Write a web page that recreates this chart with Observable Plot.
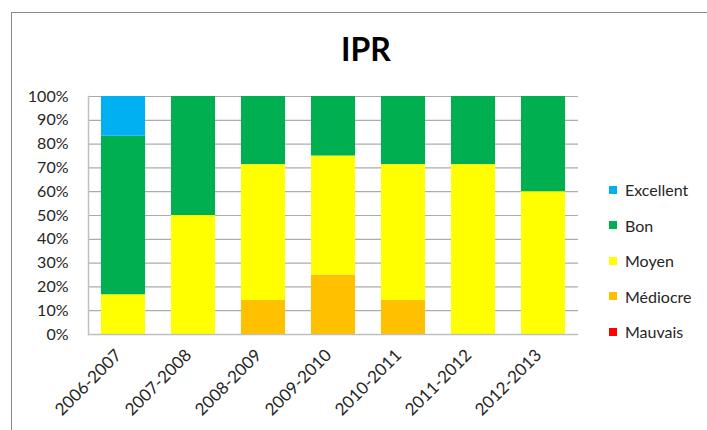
<!DOCTYPE html>
<html>
<head>
<meta charset="utf-8">
<script src="https://cdn.jsdelivr.net/npm/d3@7"></script>
<script src="https://cdn.jsdelivr.net/npm/@observablehq/plot@0.6"></script>
<style>
  html, body { margin: 0; padding: 0; background: #fff; }
  #wrap { position: relative; width: 707px; height: 430px; overflow: hidden; font-family: Lato, "Open Sans", sans-serif; }
  #frame { position: absolute; left: 11px; top: 12px; width: 720px; height: 440px; border: 1.5px solid #8a8a8a; box-sizing: border-box; }
  #chart { position: absolute; left: 0; top: 0; }
  #title { position: absolute; left: 0; width: 732px; top: 30px; text-align: center; font-weight: bold; font-size: 32px; color: #000; line-height: 38px; }
  #legend { position: absolute; left: 609px; top: 172px; }
  .item { display: flex; align-items: center; height: 35.5px; font-size: 16px; color: #262626; }
  .sw { width: 8px; height: 8px; margin-right: 8px; }
</style>
</head>
<body>
<div id="wrap">
  <div id="frame"></div>
  <div id="chart"></div>
  <div id="title">IPR</div>
  <div id="legend"></div>
</div>
<script>
const years = ["2006-2007","2007-2008","2008-2009","2009-2010","2010-2011","2011-2012","2012-2013"];
const categories = ["Mauvais","Médiocre","Moyen","Bon","Excellent"];
const colors = ["#FF0000","#FFC000","#FFFF00","#00B050","#00B0F0"];
const mauvais   = [0, 0, 0, 0, 0, 0, 0];
const mediocre  = [0, 0, 14.3, 25, 14.3, 0, 0];
const moyen     = [16.7, 50, 57.1, 50, 57.1, 71.4, 60];
const bon       = [66.6, 50, 28.6, 25, 28.6, 28.6, 40];
const excellent = [16.7, 0, 0, 0, 0, 0, 0];
const yTicks = [0,10,20,30,40,50,60,70,80,90,100];

const series = [mauvais, mediocre, moyen, bon, excellent];
const data = [];
categories.forEach((c, i) => years.forEach((y, j) => data.push({year: y, cat: c, value: series[i][j]})));

const chart = Plot.plot({
  width: 707,
  height: 430,
  marginLeft: 88,
  marginRight: 129,
  marginTop: 96,
  marginBottom: 96,
  style: {fontFamily: "Lato, 'Open Sans', sans-serif", fontSize: "16px", color: "#262626", background: "transparent"},
  x: {domain: years, paddingInner: 0.37, paddingOuter: 0.185, round: false, label: null},
  y: {domain: [0, 100], label: null},
  color: {domain: categories, range: colors},
  marks: [
    Plot.gridY(yTicks, {stroke: "#acacac", strokeOpacity: 1, strokeWidth: 1.2}),
    Plot.frame({anchor: "left", stroke: "#bfbfbf", strokeWidth: 1.5}),
    Plot.barY(data, {x: "year", y: "value", fill: "cat"}),
    Plot.ruleY([0], {stroke: "#bfbfbf", strokeWidth: 1.5}),
    Plot.axisY({ticks: yTicks, tickSize: 0, tickPadding: 20, tickFormat: d => d + "%", label: null, fontSize: 16}),
    Plot.axisX({tickSize: 0, tickRotate: -45, tickPadding: 18, dx: -5, label: null, fontSize: 17})
  ]
});
document.getElementById("chart").appendChild(chart);

const legend = document.getElementById("legend");
categories.slice().reverse().forEach((c) => {
  const i = categories.indexOf(c);
  const item = document.createElement("div");
  item.className = "item";
  const sw = document.createElement("span");
  sw.className = "sw";
  sw.style.background = colors[i];
  const t = document.createElement("span");
  t.textContent = c;
  item.appendChild(sw); item.appendChild(t);
  legend.appendChild(item);
});
</script>
</body>
</html>
